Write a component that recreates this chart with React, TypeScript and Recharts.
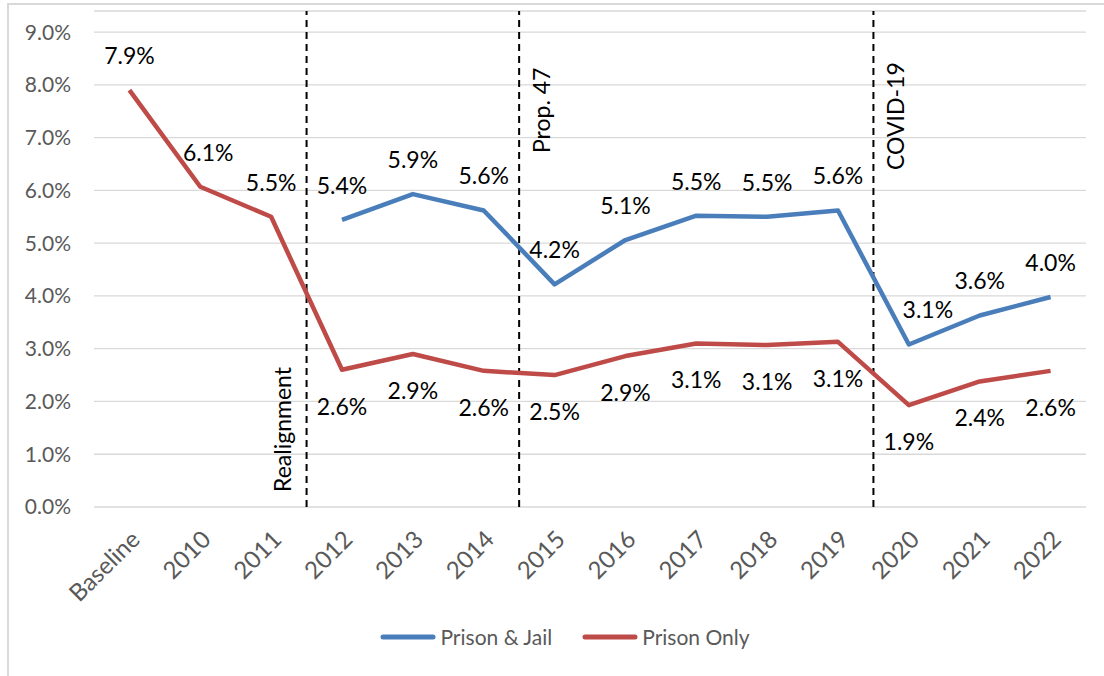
import {
  LineChart,
  Line,
  XAxis,
  YAxis,
  CartesianGrid,
  ReferenceLine,
  LabelList,
  Legend,
} from "recharts";

const categories = [
  "Baseline", "2010", "2011", "2012", "2013", "2014", "2015",
  "2016", "2017", "2018", "2019", "2020", "2021", "2022",
];

// percent values
const prisonAndJail = [
  null, null, null, 5.44, 5.93, 5.62, 4.22, 5.06, 5.52, 5.5, 5.62, 3.08, 3.63, 3.98,
];
const prisonOnly = [
  7.9, 6.07, 5.5, 2.6, 2.9, 2.58, 2.5, 2.86, 3.1, 3.07, 3.13, 1.93, 2.38, 2.58,
];

const yTicks = [0, 1, 2, 3, 4, 5, 6, 7, 8, 9];

// policy changes, drawn between the year before and the year after
const events = [
  { label: "Realignment", after: "2011", side: "left" },
  { label: "Prop. 47", after: "2014", side: "right" },
  { label: "COVID-19", after: "2019", side: "right" },
];

const BLUE = "#4A7EBB";
const RED = "#BE4B48";
const GRAY = "#595959";
const FONT = "Lato, 'Open Sans', sans-serif";

const data = categories.map((c, i) => ({
  x: i,
  name: c,
  both: prisonAndJail[i],
  prison: prisonOnly[i],
}));

function fmt(v: number) {
  return `${v.toFixed(1)}%`;
}

function AngledTick(props: any) {
  const { x, y, payload } = props;
  return (
    <g transform={`translate(${x + 12},${y + 34}) rotate(-45)`}>
      <text textAnchor="end" fill={GRAY} fontSize={24} fontFamily={FONT}>
        {categories[payload.value]}
      </text>
    </g>
  );
}

function makeLabel(series: "both" | "prison") {
  return (props: any) => {
    const { x, y, value, index } = props;
    if (value == null || x == null || y == null) return null;
    // red labels sit below once the blue series starts
    const below = series === "prison" && prisonAndJail[index] != null;
    let dx = 0;
    if (series === "both" && categories[index] === "2020") dx = 19;
    if (series === "prison" && categories[index] === "2010") dx = 8;
    return (
      <text
        x={x + dx}
        y={below ? y + 45 : y - 26}
        textAnchor="middle"
        fill="#000"
        fontSize={23}
        fontFamily={FONT}
      >
        {fmt(Number(value))}
      </text>
    );
  };
}

function EventLabel({ viewBox, text, side }: any) {
  const { x, y, height } = viewBox;
  const bx = side === "left" ? x - 16 : x + 31;
  const by = side === "left" ? y + height - 15 : text === "Prop. 47" ? y + 142 : y + 159;
  return (
    <text
      transform={`translate(${bx},${by}) rotate(-90)`}
      textAnchor="start"
      fill="#000"
      fontSize={23}
      fontFamily={FONT}
    >
      {text}
    </text>
  );
}

function LegendContent() {
  const items = [
    { label: "Prison & Jail", color: BLUE },
    { label: "Prison Only", color: RED },
  ];
  return (
    <div
      style={{
        display: "flex",
        justifyContent: "center",
        gap: 30,
        paddingLeft: 26,
        fontFamily: FONT,
        fontSize: 21,
        color: GRAY,
      }}
    >
      {items.map((it) => (
        <span key={it.label} style={{ display: "inline-flex", alignItems: "center", gap: 4 }}>
          <svg width={56} height={8}>
            <line x1={3} y1={4} x2={53} y2={4} stroke={it.color} strokeWidth={5} strokeLinecap="round" />
          </svg>
          {it.label}
        </span>
      ))}
    </div>
  );
}

export default function App() {
  return (
    <div style={{ position: "absolute", left: 0, top: 0, width: 1104, height: 676, overflow: "hidden", background: "#fff" }}>
      <div
        style={{
          position: "absolute",
          left: 7,
          top: 3,
          width: 1110,
          height: 690,
          border: "2px solid #d9d9d9",
          boxSizing: "border-box",
        }}
      />
      <LineChart
        width={1104}
        height={676}
        data={data}
        margin={{ top: 11, right: 18, bottom: 69, left: 0 }}
      >
        <CartesianGrid vertical={false} stroke="#d9d9d9" strokeWidth={1.3} />
        <XAxis
          dataKey="x"
          type="number"
          domain={[-0.5, 13.5]}
          ticks={categories.map((_, i) => i)}
          interval={0}
          axisLine={false}
          tickLine={false}
          tickSize={0}
          tickMargin={0}
          height={100}
          tick={<AngledTick />}
        />
        <YAxis
          domain={[0, 9.4]}
          ticks={yTicks}
          width={94}
          axisLine={false}
          tickLine={false}
          tickSize={0}
          tickMargin={23}
          tickFormatter={fmt}
          tick={{ fill: GRAY, fontSize: 21, fontFamily: FONT }}
        />
        {events.map((e) => (
          <ReferenceLine
            key={e.label}
            x={categories.indexOf(e.after) + 0.5}
            stroke="#000"
            strokeWidth={2}
            strokeDasharray="7 5"
            label={<EventLabel text={e.label} side={e.side} />}
          />
        ))}
        <Line
          dataKey="both"
          name="Prison & Jail"
          stroke={BLUE}
          strokeWidth={4.5}
          dot={false}
          activeDot={false}
          strokeLinejoin="round"
          isAnimationActive={false}
        >
          <LabelList dataKey="both" content={makeLabel("both")} />
        </Line>
        <Line
          dataKey="prison"
          name="Prison Only"
          stroke={RED}
          strokeWidth={4.5}
          dot={false}
          activeDot={false}
          strokeLinejoin="round"
          isAnimationActive={false}
        >
          <LabelList dataKey="prison" content={makeLabel("prison")} />
        </Line>
        <Legend
          verticalAlign="middle"
          align="center"
          content={<LegendContent />}
          wrapperStyle={{ top: 624, left: 0, width: 1104 }}
        />
      </LineChart>
    </div>
  );
}
